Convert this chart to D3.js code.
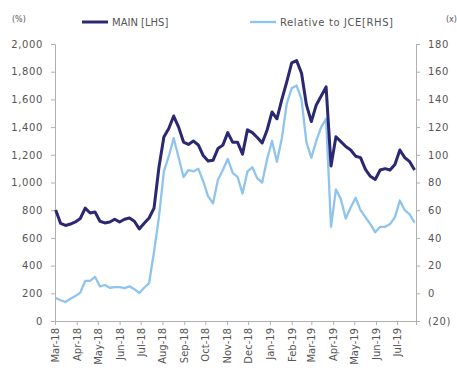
<!DOCTYPE html>
<html><head><meta charset="utf-8">
<script src="https://cdn.jsdelivr.net/npm/d3@7"></script>
<style>
body{margin:0;background:#fff;}
text{font-family:"DejaVu Sans",sans-serif;fill:#555;}
</style></head>
<body><svg id="c" width="457" height="370"></svg>
<script>
const dates = ["2018-03-02","2018-03-09","2018-03-16","2018-03-23","2018-03-30","2018-04-06","2018-04-13","2018-04-20","2018-04-27","2018-05-04","2018-05-11","2018-05-18","2018-05-25","2018-06-01","2018-06-08","2018-06-15","2018-06-22","2018-06-29","2018-07-06","2018-07-13","2018-07-20","2018-07-27","2018-08-03","2018-08-10","2018-08-17","2018-08-24","2018-08-31","2018-09-07","2018-09-14","2018-09-21","2018-09-28","2018-10-05","2018-10-12","2018-10-19","2018-10-26","2018-11-02","2018-11-09","2018-11-16","2018-11-23","2018-11-30","2018-12-07","2018-12-14","2018-12-21","2018-12-28","2019-01-04","2019-01-11","2019-01-18","2019-01-25","2019-02-01","2019-02-08","2019-02-15","2019-02-22","2019-03-01","2019-03-08","2019-03-15","2019-03-22","2019-03-29","2019-04-05","2019-04-12","2019-04-19","2019-04-26","2019-05-03","2019-05-10","2019-05-17","2019-05-24","2019-05-31","2019-06-07","2019-06-14","2019-06-21","2019-06-28","2019-07-05","2019-07-12","2019-07-19","2019-07-26"];
const mainLHS = [801,705,690,700,715,740,815,780,787,720,708,715,735,715,735,744,720,665,705,744,815,1110,1329,1390,1480,1400,1292,1275,1300,1271,1195,1155,1160,1245,1270,1360,1290,1290,1205,1380,1360,1325,1285,1379,1509,1460,1600,1726,1863,1880,1790,1560,1440,1560,1625,1690,1120,1330,1295,1260,1235,1190,1180,1095,1045,1022,1090,1100,1090,1130,1235,1180,1150,1090];
const relRHS = [-3.4,-5,-6.3,-4,-2,0.5,9,9,11.8,5,6,4,4.5,4.5,3.8,5,3,0.2,4,7.4,30,55,88,99,112,98,84,89,88,90,81,70,65,82,89,97,87,84,72,88,91,83,80,97,110,95,112,137,148,150,140,109,98,110,120,126,48,75,68,54,62,69,60,55,50,44,48,48,50,55,67,60,57,51];
const leftTicks = [0,200,400,600,800,1000,1200,1400,1600,1800,2000];
const rightTicks = [-20,0,20,40,60,80,100,120,140,160,180];
const seriesNames = ["MAIN [LHS]","Relative to JCE[RHS]"];
const seriesColors = ["#2a2872","#8ec4ee"];

const svg = d3.select("#c");
const parse = d3.timeParse("%Y-%m-%d");
const L = 55, R = 416, T = 44, B = 321;
const x = d3.scaleTime().domain([parse("2018-03-01"), parse("2019-07-28")]).range([L, R]);
const yL = d3.scaleLinear().domain([0,2000]).range([B, T]);
const yR = d3.scaleLinear().domain([-20,180]).range([B, T]);

function styleAxis(g){
  g.selectAll(".domain").attr("stroke","#b0b0b0");
  g.selectAll(".tick line").attr("stroke","#b0b0b0");
  g.selectAll("text").attr("fill","#555").style("font-size","10px").style("font-family","DejaVu Sans, sans-serif");
}

const gl = svg.append("g").attr("transform",`translate(${L},0)`)
  .call(d3.axisLeft(yL).tickValues(leftTicks).tickFormat(d3.format(",")).tickSizeOuter(0).tickSize(4).tickPadding(8));
styleAxis(gl);
gl.selectAll("text").style("letter-spacing","0.6px");

const rfmt = v => v < 0 ? `(${Math.abs(v)})` : String(v);
const gr = svg.append("g").attr("transform",`translate(${R},0)`)
  .call(d3.axisRight(yR).tickValues(rightTicks).tickFormat(rfmt).tickSizeOuter(0).tickSize(4).tickPadding(8));
styleAxis(gr);
gr.selectAll("text").style("letter-spacing","0.6px");

const gx = svg.append("g").attr("transform",`translate(0,${B})`)
  .call(d3.axisBottom(x).ticks(d3.timeMonth.every(1)).tickFormat(d3.timeFormat("%b-%y")).tickSizeOuter(0).tickSize(4));
styleAxis(gx);
gx.selectAll("text").attr("transform","rotate(-90)").attr("text-anchor","end")
  .attr("x",-7).attr("y",0).attr("dy","0.35em");

const pts = dates.map((d,i)=>({d:parse(d), m:mainLHS[i], r:relRHS[i]}));
svg.append("path").datum(pts).attr("fill","none").attr("stroke",seriesColors[1]).attr("stroke-width",2.3)
  .attr("stroke-linejoin","round").attr("d",d3.line().x(p=>x(p.d)).y(p=>yR(p.r)));
svg.append("path").datum(pts).attr("fill","none").attr("stroke",seriesColors[0]).attr("stroke-width",3)
  .attr("stroke-linejoin","round").attr("d",d3.line().x(p=>x(p.d)).y(p=>yL(p.m)));

// unit labels
svg.append("text").attr("x",12).attr("y",22).style("font-size","8px").text("(%)");
svg.append("text").attr("x",446).attr("y",22).style("font-size","8px").text("(x)");

// legend
const lg = [{x1:82,tx:112,ls:"0px"},{x1:250,tx:280,ls:"0.6px"}];
lg.forEach((l,i)=>{
  svg.append("line").attr("x1",l.x1).attr("x2",l.x1+26).attr("y1",22).attr("y2",22)
    .attr("stroke",seriesColors[i]).attr("stroke-width",i===0?3:2.3);
  svg.append("text").attr("x",l.tx).attr("y",22).attr("dy","0.35em").style("font-size","10px")
    .style("letter-spacing",l.ls).text(seriesNames[i]);
});
</script></body></html>
